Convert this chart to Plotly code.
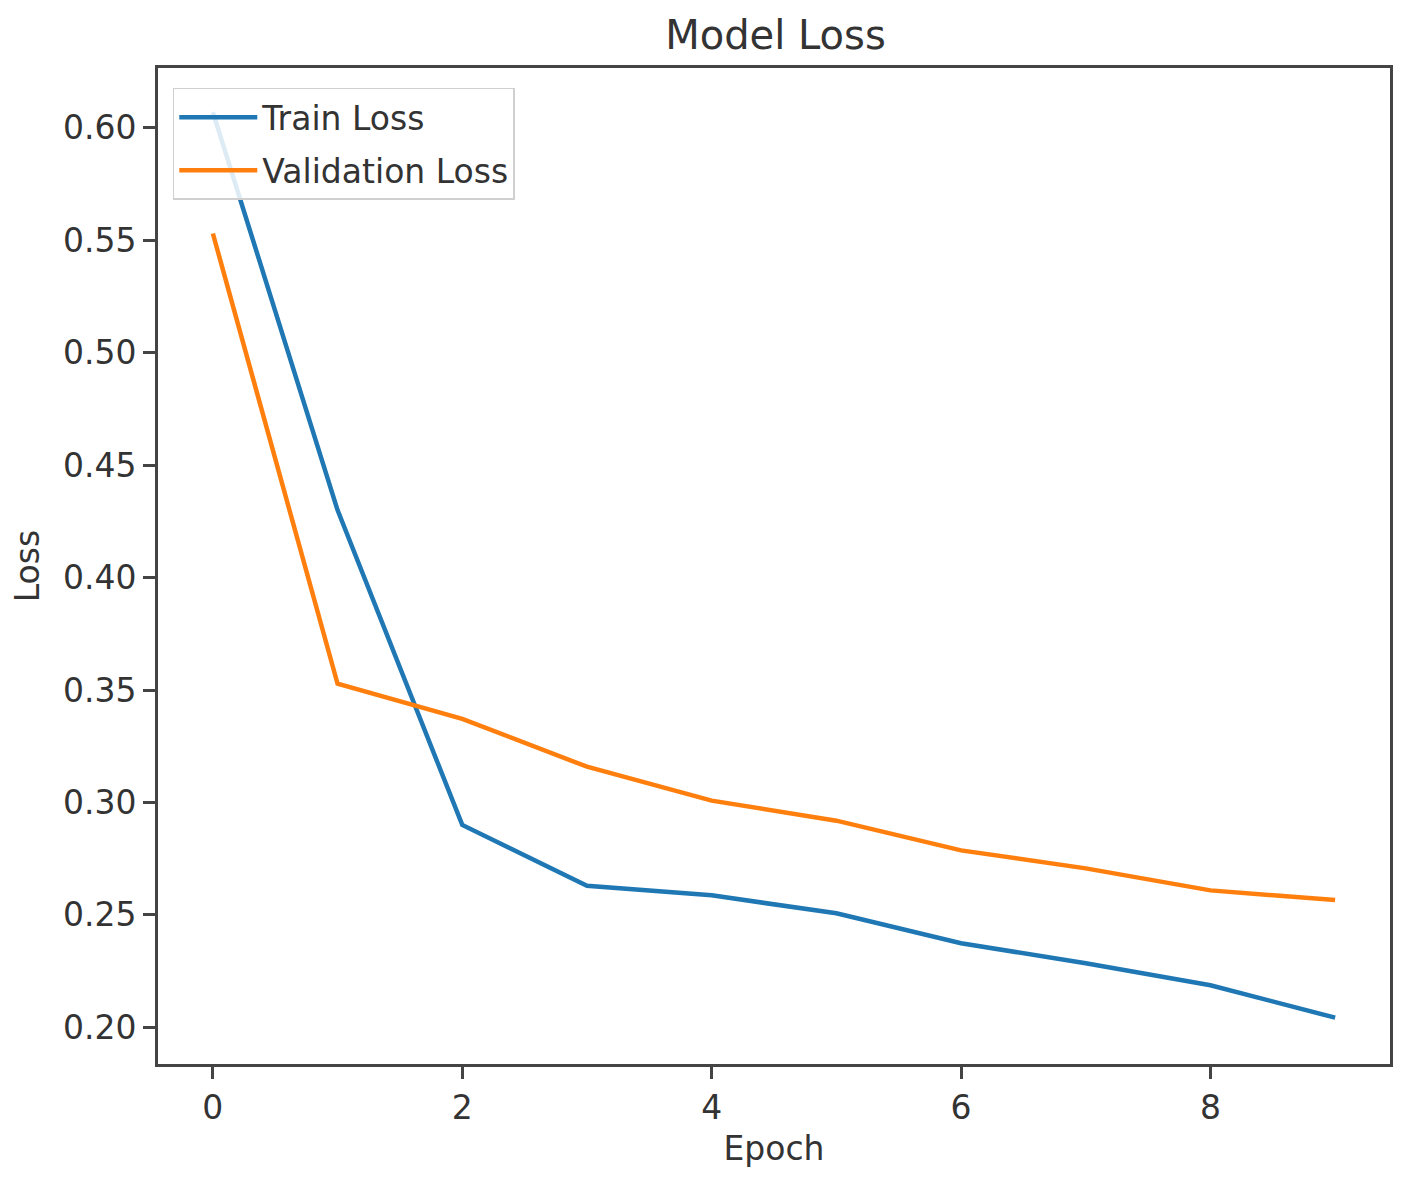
import plotly.graph_objects as go

epochs = [0, 1, 2, 3, 4, 5, 6, 7, 8, 9]
train_loss = [0.607, 0.430, 0.290, 0.263, 0.2587, 0.2507, 0.2374, 0.2285, 0.2187, 0.2043]
val_loss = [0.553, 0.3528, 0.3372, 0.3159, 0.3008, 0.2919, 0.2787, 0.2707, 0.2609, 0.2566]
x_ticks = [0, 2, 4, 6, 8]
y_ticks = [0.20, 0.25, 0.30, 0.35, 0.40, 0.45, 0.50, 0.55, 0.60]

FONT = "DejaVu Sans"
TXT = "#333333"

fig = go.Figure()
fig.add_trace(go.Scatter(x=epochs, y=train_loss, mode="lines", name="Train Loss",
                         legendgroup="a", line=dict(color="#1f77b4", width=4.5)))
fig.add_trace(go.Scatter(x=epochs, y=val_loss, mode="lines", name="Validation Loss",
                         legendgroup="b", line=dict(color="#ff7f0e", width=4.5)))

# page body has an 8px margin
W, H = 1397, 1166
L, T = 150, 60
PW, PH = 1235, 998
R = W - L - PW
B = H - T - PH

axis_common = dict(showline=True, linecolor="#444444", linewidth=3, mirror=True,
                   showgrid=False, zeroline=False, ticks="outside", ticklen=12,
                   tickwidth=2.5, tickcolor="#444444",
                   tickfont=dict(family=FONT, size=33, color=TXT))

fig.update_layout(
    width=W, height=H,
    margin=dict(l=L, r=R, t=T, b=B),
    paper_bgcolor="white", plot_bgcolor="white",
    title=dict(text="Model Loss", x=(L + PW / 2) / W, xanchor="center",
               y=1 - 27 / H, yanchor="middle",
               font=dict(family=FONT, size=40, color=TXT)),
    xaxis=dict(range=[-0.44, 9.44], tickvals=x_ticks, ticktext=[str(v) for v in x_ticks],
               title=dict(text="Epoch", font=dict(family=FONT, size=33, color=TXT), standoff=12),
               **axis_common),
    yaxis=dict(range=[0.1837, 0.6266], tickvals=y_ticks, ticktext=[f"{v:.2f}" for v in y_ticks],
               title=dict(text="Loss", font=dict(family=FONT, size=33, color=TXT), standoff=14),
               **axis_common),
    legend=dict(x=0.012, y=0.98, xanchor="left", yanchor="top",
                bgcolor="rgba(255,255,255,0.85)", bordercolor="#d0d0d0", borderwidth=1.5,
                font=dict(family=FONT, size=33, color=TXT), itemwidth=78,
                traceorder="grouped", tracegroupgap=7),
    showlegend=True,
)

fig.write_html("out.html")
